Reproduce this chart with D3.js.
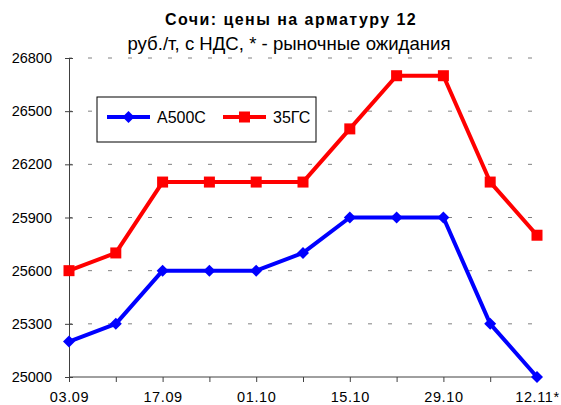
<!DOCTYPE html>
<html>
<head>
<meta charset="utf-8">
<script src="https://cdn.jsdelivr.net/npm/d3@7"></script>
<style>
  body { margin: 0; background: #fff; }
  text { font-family: "Liberation Sans", Arial, sans-serif; fill: #000; }
</style>
</head>
<body>
<div id="chart"></div>
<script>
// data
const dates = ["03.09", "10.09", "17.09", "24.09", "01.10", "08.10", "15.10", "22.10", "29.10", "05.11", "12.11*"];
const tickLabels = ["03.09", "17.09", "01.10", "15.10", "29.10", "12.11*"];
const a500c = [25200, 25300, 25600, 25600, 25600, 25700, 25900, 25900, 25900, 25300, 25000];
const gs35 = [25600, 25700, 26100, 26100, 26100, 26100, 26400, 26700, 26700, 26100, 25800];
const yTicks = [25000, 25300, 25600, 25900, 26200, 26500, 26800];

const width = 561, height = 405;
const margin = { top: 58, right: 24, bottom: 28, left: 69 };
const w = width - margin.left - margin.right;
const h = height - margin.top - margin.bottom;

const svg = d3.select("#chart").append("svg")
  .attr("width", width)
  .attr("height", height);

// titles
svg.append("text")
  .attr("x", 291).attr("y", 25)
  .attr("text-anchor", "middle")
  .style("font-size", "16px").style("font-weight", "bold")
  .style("letter-spacing", "1.45px")
  .text("Сочи: цены на арматуру 12");
svg.append("text")
  .attr("x", 289).attr("y", 50)
  .attr("text-anchor", "middle")
  .style("font-size", "18.6px")
  .text("руб./т, с НДС, * - рыночные ожидания");

const chart = svg.append("g")
  .attr("transform", `translate(${margin.left},${margin.top})`);

const x = d3.scalePoint().domain(dates).range([0, w]);
const y = d3.scaleLinear().domain([25000, 26800]).range([h, 0]);

// dashed grid
chart.append("g")
  .selectAll("line")
  .data(yTicks.filter(d => d > 25000))
  .join("line")
  .attr("x1", 0).attr("x2", w)
  .attr("y1", d => y(d)).attr("y2", d => y(d))
  .attr("stroke", "#808080")
  .attr("stroke-width", 1)
  .attr("stroke-dasharray", "4,16")
  .attr("stroke-dashoffset", -19);

// y axis
const yAxis = d3.axisLeft(y).tickValues(yTicks).tickSize(4).tickSizeOuter(0).tickFormat(d3.format("d"));
const yg = chart.append("g").call(yAxis);
yg.select(".domain").attr("stroke", "#404040");
yg.selectAll(".tick line").attr("x2", 4).attr("x1", -4).attr("stroke", "#404040");
yg.selectAll(".tick text")
  .attr("x", -17)
  .style("font-size", "14.5px")
  .style("font-family", "Liberation Sans, Arial, sans-serif");

// x axis
const xAxis = d3.axisBottom(x).tickSize(5).tickSizeOuter(0)
  .tickFormat(d => tickLabels.includes(d) ? d : "");
const xg = chart.append("g")
  .attr("transform", `translate(0,${h})`)
  .call(xAxis);
xg.select(".domain").attr("stroke", "#404040").attr("d", `M0,0H${w}`);
xg.selectAll(".tick line").attr("stroke", "#404040");
xg.selectAll(".tick text")
  .attr("y", 25).attr("dy", null)
  .style("font-size", "14.5px")
  .style("letter-spacing", "0.6px")
  .style("font-family", "Liberation Sans, Arial, sans-serif");

const line = d3.line()
  .x((d, i) => x(dates[i]))
  .y(d => y(d));

// 35ГС
chart.append("path")
  .datum(gs35)
  .attr("fill", "none")
  .attr("stroke", "#ff0000")
  .attr("stroke-width", 4)
  .attr("stroke-linejoin", "round")
  .attr("d", line);
chart.selectAll(".sq")
  .data(gs35)
  .join("rect")
  .attr("class", "sq")
  .attr("x", (d, i) => x(dates[i]) - 5.5)
  .attr("y", d => y(d) - 5.5)
  .attr("width", 11).attr("height", 11)
  .attr("fill", "#ff0000");

// A500C
chart.append("path")
  .datum(a500c)
  .attr("fill", "none")
  .attr("stroke", "#0000ff")
  .attr("stroke-width", 4)
  .attr("stroke-linejoin", "round")
  .attr("d", line);
chart.selectAll(".dm")
  .data(a500c)
  .join("path")
  .attr("class", "dm")
  .attr("transform", (d, i) => `translate(${x(dates[i])},${y(d)})`)
  .attr("d", "M0,-6L6,0L0,6L-6,0Z")
  .attr("fill", "#0000ff");

// legend
const lg = svg.append("g").attr("transform", "translate(97,97)");
lg.append("rect")
  .attr("width", 219).attr("height", 45)
  .attr("fill", "#fff").attr("stroke", "#000").attr("stroke-width", 1);
lg.append("line")
  .attr("x1", 10).attr("x2", 53).attr("y1", 20).attr("y2", 20)
  .attr("stroke", "#0000ff").attr("stroke-width", 4);
lg.append("path")
  .attr("transform", "translate(31.5,20)")
  .attr("d", "M0,-6L6,0L0,6L-6,0Z")
  .attr("fill", "#0000ff");
lg.append("text")
  .attr("x", 60).attr("y", 26)
  .style("font-size", "16px")
  .text("A500C");
lg.append("line")
  .attr("x1", 126).attr("x2", 169).attr("y1", 20).attr("y2", 20)
  .attr("stroke", "#ff0000").attr("stroke-width", 4);
lg.append("rect")
  .attr("x", 142).attr("y", 14.5).attr("width", 11).attr("height", 11)
  .attr("fill", "#ff0000");
lg.append("text")
  .attr("x", 176).attr("y", 26)
  .style("font-size", "16px")
  .text("35ГС");
</script>
</body>
</html>
